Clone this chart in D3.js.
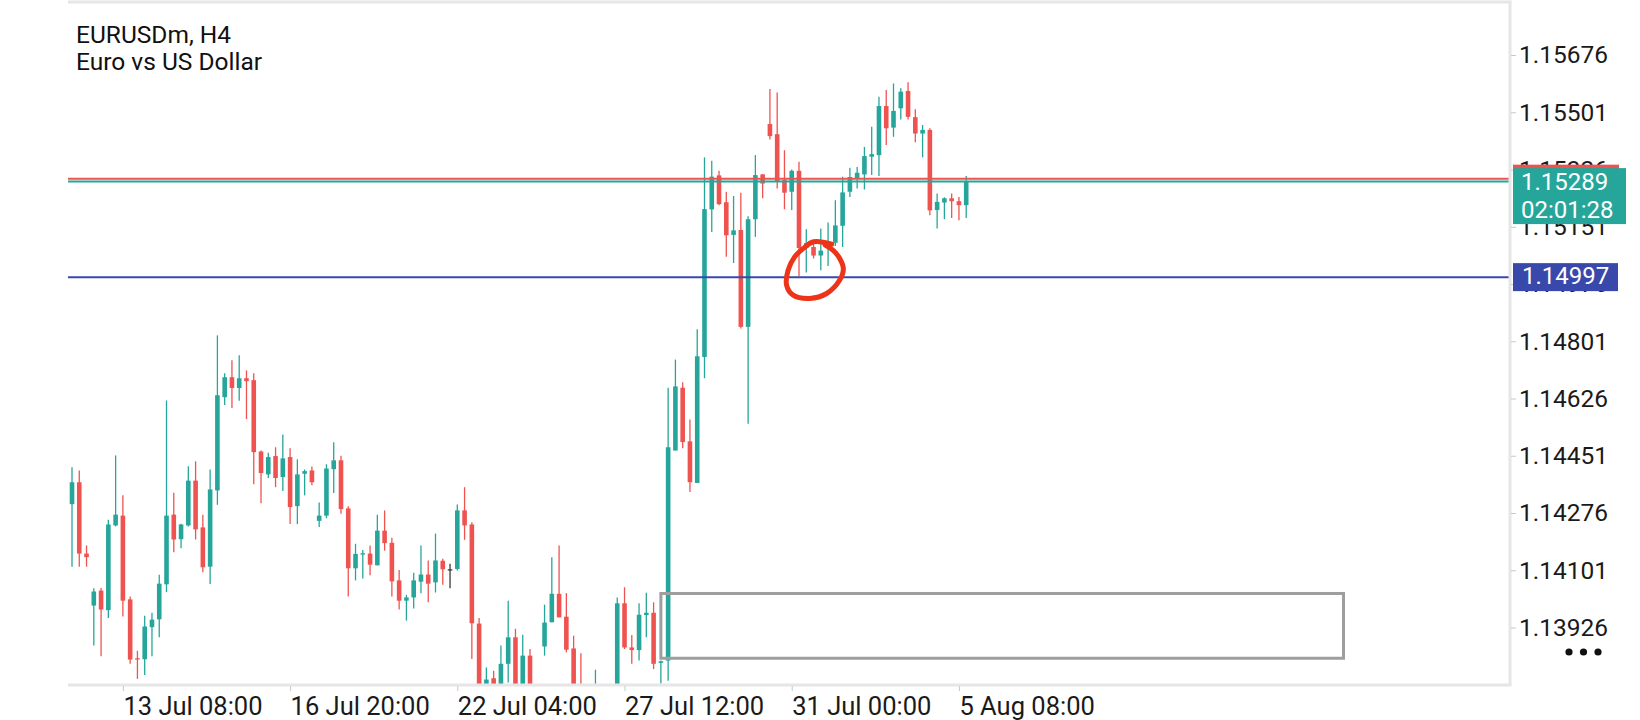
<!DOCTYPE html>
<html>
<head>
<meta charset="utf-8">
<script src="https://cdn.jsdelivr.net/npm/d3@7"></script>
<style>
  body { margin: 0; background: #fff; }
  svg { display: block; font-family: Roboto, "Noto Sans", sans-serif; }
</style>
</head>
<body>
<script>
// EURUSDm H4 candles, one entry per bar (oldest first)
const opens = [
  1.14303,1.14370,1.14152,1.13993,1.14039,1.13979,1.14238,1.14268,1.14012,1.13832,
  1.13829,1.13927,1.13951,1.14058,1.14271,1.14196,1.14238,1.14375,1.14232,1.14112,
  1.14345,1.14630,1.14691,1.14658,1.14688,1.14682,1.14464,1.14394,1.14450,1.14386,
  1.14447,1.14297,1.14396,1.14406,1.14252,1.14268,1.14410,1.14437,1.14290,1.14107,
  1.14150,1.14152,1.14116,1.14222,1.14185,1.14070,1.14008,1.14018,1.14066,1.14088,
  1.14064,1.14130,1.14104,1.14105,1.14284,1.14241,1.13938,1.13745,1.13771,1.13702,
  1.13815,1.13896,1.13702,1.13840,1.13700,1.13868,1.13942,1.14029,1.13959,1.13862,
  1.13700,1.13640,1.13650,1.13720,1.13680,1.13705,1.14000,1.13865,1.13857,1.13964,
  1.13971,1.13818,1.13825,1.14467,1.14659,1.14495,1.14368,1.14753,1.15204,1.15308,
  1.15226,1.15126,1.15141,1.14845,1.15174,1.15311,1.15465,1.15434,1.15294,1.15258,
  1.15322,1.15086,1.15089,1.15063,1.15098,1.15102,1.15154,1.15258,1.15300,1.15311,
  1.15365,1.15370,1.15520,1.15454,1.15513,1.15566,1.15486,1.15436,1.15447,1.15202,
  1.15225,1.15238,1.15229,1.15217
];
const highs = [
  1.14416,1.14406,1.14177,1.14046,1.14047,1.14255,1.14452,1.14330,1.14021,1.13855,
  1.13962,1.13971,1.14087,1.14620,1.14338,1.14243,1.14419,1.14434,1.14271,1.14409,
  1.14819,1.14703,1.14743,1.14758,1.14712,1.14703,1.14467,1.14460,1.14477,1.14516,
  1.14474,1.14440,1.14409,1.14418,1.14308,1.14425,1.14492,1.14451,1.14297,1.14182,
  1.14163,1.14177,1.14271,1.14284,1.14200,1.14102,1.14026,1.14093,1.14177,1.14131,
  1.14213,1.14136,1.14121,1.14302,1.14355,1.14248,1.13955,1.13804,1.13794,1.13871,
  1.14008,1.13922,1.13904,1.13860,1.13730,1.13996,1.14141,1.14177,1.14031,1.13901,
  1.13847,1.13720,1.13797,1.13730,1.13725,1.14018,1.14049,1.13903,1.14000,1.14032,
  1.14003,1.13825,1.14659,1.14745,1.14676,1.14562,1.14838,1.15363,1.15353,1.15322,
  1.15258,1.15245,1.15255,1.15183,1.15370,1.15312,1.15572,1.15561,1.15385,1.15326,
  1.15350,1.15143,1.15105,1.15146,1.15164,1.15232,1.15304,1.15331,1.15334,1.15395,
  1.15457,1.15548,1.15569,1.15589,1.15574,1.15593,1.15510,1.15462,1.15452,1.15253,
  1.15241,1.15253,1.15242,1.15306
];
const lows = [
  1.14112,1.14112,1.14112,1.13871,1.13838,1.13955,1.14235,1.13960,1.13815,1.13769,
  1.13781,1.13838,1.13896,1.14034,1.14156,1.14168,1.14235,1.14195,1.14095,1.14059,
  1.14301,1.14606,1.14597,1.14619,1.14563,1.14364,1.14306,1.14383,1.14355,1.14343,
  1.14242,1.14242,1.14330,1.14361,1.14233,1.14260,1.14337,1.14274,1.14021,1.14070,
  1.14076,1.14086,1.14116,1.14161,1.14021,1.13981,1.13947,1.13984,1.14031,1.14003,
  1.14033,1.14057,1.14046,1.14100,1.14194,1.13830,1.13656,1.13718,1.13672,1.13666,
  1.13758,1.13678,1.13666,1.13647,1.13640,1.13840,1.13942,1.13957,1.13850,1.13666,
  1.13630,1.13600,1.13620,1.13630,1.13610,1.13660,1.13860,1.13815,1.13825,1.13896,
  1.13799,1.13755,1.13763,1.14467,1.14474,1.14340,1.14368,1.14688,1.15135,1.15217,
  1.15059,1.15040,1.14840,1.14549,1.15120,1.15238,1.15418,1.15268,1.15204,1.15202,
  1.15000,1.15011,1.15054,1.15018,1.15031,1.15092,1.15089,1.15242,1.15268,1.15265,
  1.15309,1.15306,1.15401,1.15426,1.15479,1.15479,1.15409,1.15363,1.15186,1.15146,
  1.15174,1.15178,1.15171,1.15178
];
const closes = [
  1.14370,1.14152,1.14141,1.14036,1.13981,1.14241,1.14271,1.14008,1.13828,1.13829,
  1.13929,1.13950,1.14060,1.14268,1.14195,1.14241,1.14375,1.14226,1.14110,1.14348,
  1.14636,1.14691,1.14658,1.14688,1.14679,1.14462,1.14398,1.14447,1.14383,1.14443,
  1.14294,1.14394,1.14404,1.14370,1.14268,1.14412,1.14437,1.14288,1.14107,1.14151,
  1.14153,1.14118,1.14222,1.14184,1.14067,1.14008,1.14018,1.14070,1.14088,1.14060,
  1.14131,1.14104,1.14104,1.14284,1.14238,1.13939,1.13687,1.13767,1.13702,1.13815,
  1.13896,1.13712,1.13840,1.13687,1.13720,1.13941,1.14029,1.13957,1.13858,1.13687,
  1.13660,1.13690,1.13720,1.13680,1.13700,1.14000,1.13865,1.13857,1.13965,1.13971,
  1.13815,1.13823,1.14477,1.14663,1.14493,1.14370,1.14755,1.15205,1.15304,1.15220,
  1.15125,1.15140,1.14845,1.15174,1.15309,1.15283,1.15428,1.15290,1.15255,1.15322,
  1.15086,1.15101,1.15063,1.15078,1.15102,1.15155,1.15256,1.15303,1.15316,1.15367,
  1.15373,1.15520,1.15452,1.15505,1.15564,1.15487,1.15436,1.15447,1.15201,1.15227,
  1.15238,1.15229,1.15217,1.15289
];

// axis ticks
const priceTicks = [1.15676,1.15501,1.15326,1.15151,1.14976,1.14801,1.14626,1.14451,1.14276,1.14101,1.13926];
const timeTickBars = [7, 30, 53, 76, 99, 122];
const timeTickLabels = ['13 Jul 08:00','16 Jul 20:00','22 Jul 04:00','27 Jul 12:00','31 Jul 00:00','5 Aug 08:00'];

// price levels
const bidPrice = 1.15289;
const askPrice = 1.15298;
const alertPrice = 1.14997;
const barCountdown = '02:01:28';

// rectangle object (bar index / price)
const zoneBars = [81, 174.9];
const zonePrices = [1.14030, 1.13832];

// hand drawn circle (bar index / price)
const markBars   = [104.5,102.0,100.6,99.4,98.5,98.3,99.2,101.5,103.8,105.6,106.1,105.6,104.7,103.6];
const markPrices = [1.15098,1.15105,1.15085,1.15059,1.15018,1.14972,1.14942,1.14932,1.14947,1.14988,1.15023,1.15054,1.15079,1.15095];

const W = 1640, H = 720;
const plotLeft = 68, plotRight = 1510, plotTop = 2, plotBottom = 685;
const UP = '#26a69a', DOWN = '#ef5350', FLAT = '#3a3a3a';

const bars = opens.map((o, i) => ({i, o, h: highs[i], l: lows[i], c: closes[i]}));

const x = d3.scaleLinear().domain([0, 123]).range([72, 72 + 123 * 7.27]);
const y = d3.scaleLinear().domain([1.15676, 1.13926]).range([55, 627.5]);

const svg = d3.select('body').append('svg')
  .attr('width', W)
  .attr('height', H);

svg.append('rect').attr('width', W).attr('height', H).attr('fill', '#fff');

svg.append('clipPath').attr('id', 'plot')
  .append('rect')
  .attr('x', plotLeft).attr('y', plotTop + 1)
  .attr('width', plotRight - plotLeft).attr('height', plotBottom - plotTop - 2);

const plot = svg.append('g').attr('clip-path', 'url(#plot)');

// candles
const color = d => d.c > d.o ? UP : (d.c < d.o ? DOWN : FLAT);

plot.selectAll('line.wick')
  .data(bars)
  .enter()
  .append('line')
  .attr('class', 'wick')
  .attr('x1', d => x(d.i)).attr('x2', d => x(d.i))
  .attr('y1', d => y(d.h)).attr('y2', d => y(d.l))
  .attr('stroke', color)
  .attr('stroke-width', 1.3);

plot.selectAll('rect.body')
  .data(bars)
  .enter()
  .append('rect')
  .attr('class', 'body')
  .attr('x', d => x(d.i) - 2.3)
  .attr('width', 4.6)
  .attr('y', d => y(Math.max(d.o, d.c)))
  .attr('height', d => Math.max(1.3, Math.abs(y(d.o) - y(d.c))))
  .attr('fill', color);

// rectangle object
plot.append('rect')
  .attr('x', x(zoneBars[0]))
  .attr('y', y(zonePrices[0]))
  .attr('width', x(zoneBars[1]) - x(zoneBars[0]))
  .attr('height', y(zonePrices[1]) - y(zonePrices[0]))
  .attr('fill', 'none')
  .attr('stroke', '#9e9e9e')
  .attr('stroke-width', 3);

// horizontal price lines
const levels = [
  {p: askPrice, c: DOWN},
  {p: bidPrice, c: UP},
  {p: alertPrice, c: '#3949ab'}
];
plot.selectAll('line.level')
  .data(levels)
  .enter()
  .append('line')
  .attr('class', 'level')
  .attr('x1', plotLeft).attr('x2', plotRight)
  .attr('y1', d => y(d.p)).attr('y2', d => y(d.p))
  .attr('stroke', d => d.c)
  .attr('stroke-width', 2);

// hand drawn mark
const markLine = d3.line()
  .x(d => x(d[0]))
  .y(d => y(d[1]))
  .curve(d3.curveCatmullRom);
plot.append('path')
  .attr('d', markLine(markBars.map((b, i) => [b, markPrices[i]])))
  .attr('fill', 'none')
  .attr('stroke', '#ee3418')
  .attr('stroke-width', 5)
  .attr('stroke-linecap', 'round')
  .attr('stroke-linejoin', 'round');

// frame
const frame = svg.append('g').attr('stroke', '#e6e6e6').attr('stroke-width', 3);
frame.append('line').attr('x1', plotLeft).attr('x2', plotRight + 1.5).attr('y1', plotTop).attr('y2', plotTop);
frame.append('line').attr('x1', plotRight).attr('x2', plotRight).attr('y1', plotTop).attr('y2', plotBottom);
frame.append('line').attr('x1', plotLeft).attr('x2', plotRight + 1.5).attr('y1', plotBottom).attr('y2', plotBottom);

// price axis
const yAxis = svg.append('g')
  .attr('transform', 'translate(' + (plotRight + 1) + ',0)')
  .call(d3.axisRight(y).tickValues(priceTicks).tickFormat(d3.format('.5f')).tickSize(5).tickPadding(3));
yAxis.select('.domain').remove();
yAxis.selectAll('line').attr('stroke', '#c8c8c8');
yAxis.selectAll('text').attr('fill', '#1a1a1a').attr('font-size', 24.5).attr('font-family', 'Roboto');

// time axis
const xAxis = svg.append('g')
  .attr('transform', 'translate(0,' + (plotBottom + 1) + ')')
  .call(d3.axisBottom(x).tickValues(timeTickBars).tickFormat((d, i) => timeTickLabels[i]).tickSize(5).tickPadding(6));
xAxis.select('.domain').remove();
xAxis.selectAll('line').attr('stroke', '#c8c8c8');
xAxis.selectAll('text')
  .attr('fill', '#1a1a1a')
  .attr('font-size', 25.5)
  .attr('font-family', 'Roboto')
  .attr('text-anchor', 'start')
  .attr('dx', 0);

// price labels on the axis
svg.append('rect')
  .attr('x', plotRight + 3).attr('y', y(askPrice) - 14)
  .attr('width', 106).attr('height', 28)
  .attr('fill', DOWN);

svg.append('rect')
  .attr('x', plotRight + 3).attr('y', y(bidPrice) - 13.5)
  .attr('width', 113).attr('height', 56)
  .attr('fill', UP);
svg.append('text')
  .attr('x', plotRight + 11).attr('y', y(bidPrice) + 8.5)
  .attr('fill', '#fff').attr('font-size', 24)
  .text(d3.format('.5f')(bidPrice));
svg.append('text')
  .attr('x', plotRight + 11).attr('y', y(bidPrice) + 36)
  .attr('fill', '#fff').attr('font-size', 24)
  .text(barCountdown);

svg.append('rect')
  .attr('x', plotRight + 3).attr('y', y(alertPrice) - 14)
  .attr('width', 105).attr('height', 28)
  .attr('fill', '#3949ab');
svg.append('text')
  .attr('x', plotRight + 12).attr('y', y(alertPrice) + 6.5)
  .attr('fill', '#fff').attr('font-size', 24)
  .text(d3.format('.5f')(alertPrice));

// title
svg.append('text').attr('x', 76).attr('y', 43)
  .attr('font-size', 24.5).attr('fill', '#111')
  .text('EURUSDm, H4');
svg.append('text').attr('x', 76).attr('y', 70)
  .attr('font-size', 24.5).attr('fill', '#111')
  .text('Euro vs US Dollar');

// menu dots
svg.selectAll('circle.dot')
  .data([0, 1, 2])
  .enter()
  .append('circle')
  .attr('class', 'dot')
  .attr('cx', d => 1569 + d * 14.5)
  .attr('cy', 652)
  .attr('r', 3.6)
  .attr('fill', '#111');
</script>
</body>
</html>
